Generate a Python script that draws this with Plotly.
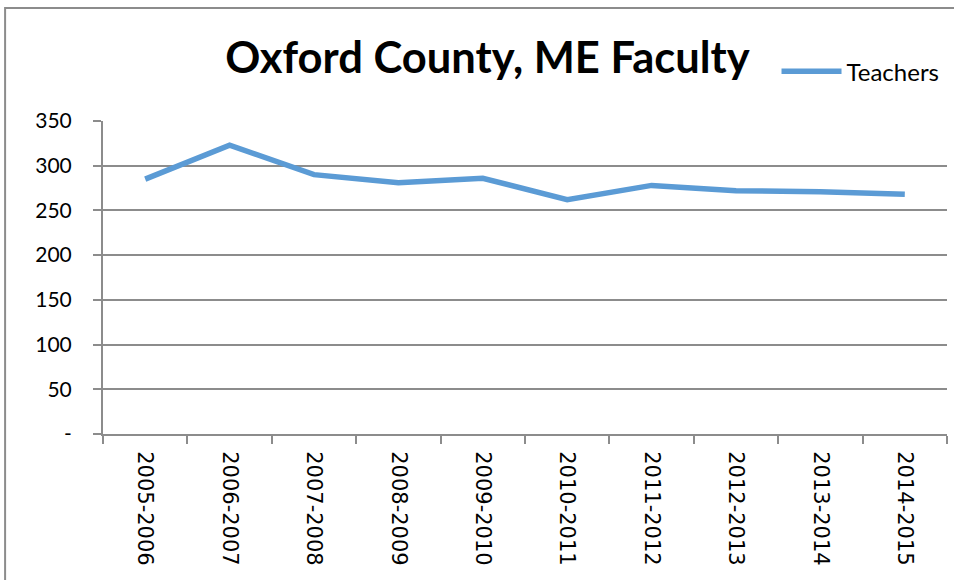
"""
Oxford County, ME faculty - teachers per school year
"""

import plotly.graph_objects as go

# Data
school_years = ['2005-2006', '2006-2007', '2007-2008', '2008-2009', '2009-2010',
                '2010-2011', '2011-2012', '2012-2013', '2013-2014', '2014-2015']
teachers = [285, 323, 290, 281, 286, 262, 278, 272, 271, 268]

y_tick_vals = [0, 50, 100, 150, 200, 250, 300, 350]
y_tick_text = ['-', '50', '100', '150', '200', '250', '300', '350']

# Styling
LINE_COLOR = '#5B9BD5'
GRID_COLOR = '#8C8C8C'
BORDER_COLOR = '#8C8C8C'
TEXT_COLOR = '#000000'

fig = go.Figure()

fig.add_trace(go.Scatter(
    x=school_years,
    y=teachers,
    mode='lines',
    name='Teachers',
    line=dict(color=LINE_COLOR, width=5.5),
))

fig.update_layout(
    width=954,
    height=580,
    margin=dict(l=103, r=7, t=121, b=146),
    plot_bgcolor='white',
    paper_bgcolor='white',
    font=dict(family='Lato, sans-serif', color=TEXT_COLOR),
    title=dict(
        text='<b>Oxford County, ME Faculty</b>',
        font=dict(size=43.5, family='Lato, sans-serif', color=TEXT_COLOR),
        x=0.511, xanchor='center',
        y=0.9, yanchor='middle',
    ),
    showlegend=True,
    legend=dict(
        orientation='h',
        x=0.798, xanchor='left',
        y=1.158, yanchor='middle',
        font=dict(size=24, family='Lato, sans-serif'),
        itemwidth=60,
        bgcolor='rgba(0,0,0,0)',
    ),
    xaxis=dict(
        type='category',
        range=[-0.5, 9.5],
        automargin=False,
        showgrid=False,
        showline=True,
        linecolor=GRID_COLOR,
        linewidth=2,
        ticks='outside',
        tickson='boundaries',
        ticklen=8,
        tickcolor=GRID_COLOR,
        tickwidth=1.5,
        tickangle=90,
        ticklabelstandoff=11,
        tickfont=dict(family='DejaVu Sans, sans-serif', size=21),
    ),
    yaxis=dict(
        range=[0, 350],
        automargin=False,
        tickvals=y_tick_vals,
        ticktext=y_tick_text,
        showgrid=True,
        gridcolor=GRID_COLOR,
        gridwidth=1.5,
        zeroline=False,
        showline=True,
        linecolor=GRID_COLOR,
        linewidth=2,
        ticks='outside',
        ticklen=8,
        tickcolor=GRID_COLOR,
        tickwidth=1.5,
        ticklabelstandoff=17,
        tickfont=dict(size=21),
    ),
    shapes=[
        # outer chart frame
        dict(type='rect', xref='paper', yref='paper',
             x0=-0.116, x1=1.03, y0=-0.5, y1=1.361,
             line=dict(color=BORDER_COLOR, width=2), fillcolor='rgba(0,0,0,0)',
             layer='below'),
    ],
)

# page body has a default 8px margin; drop it so the figure sits at 0,0
fig.write_html("out.html", config={'displayModeBar': False},
               post_script="document.body.style.margin='0px';")
